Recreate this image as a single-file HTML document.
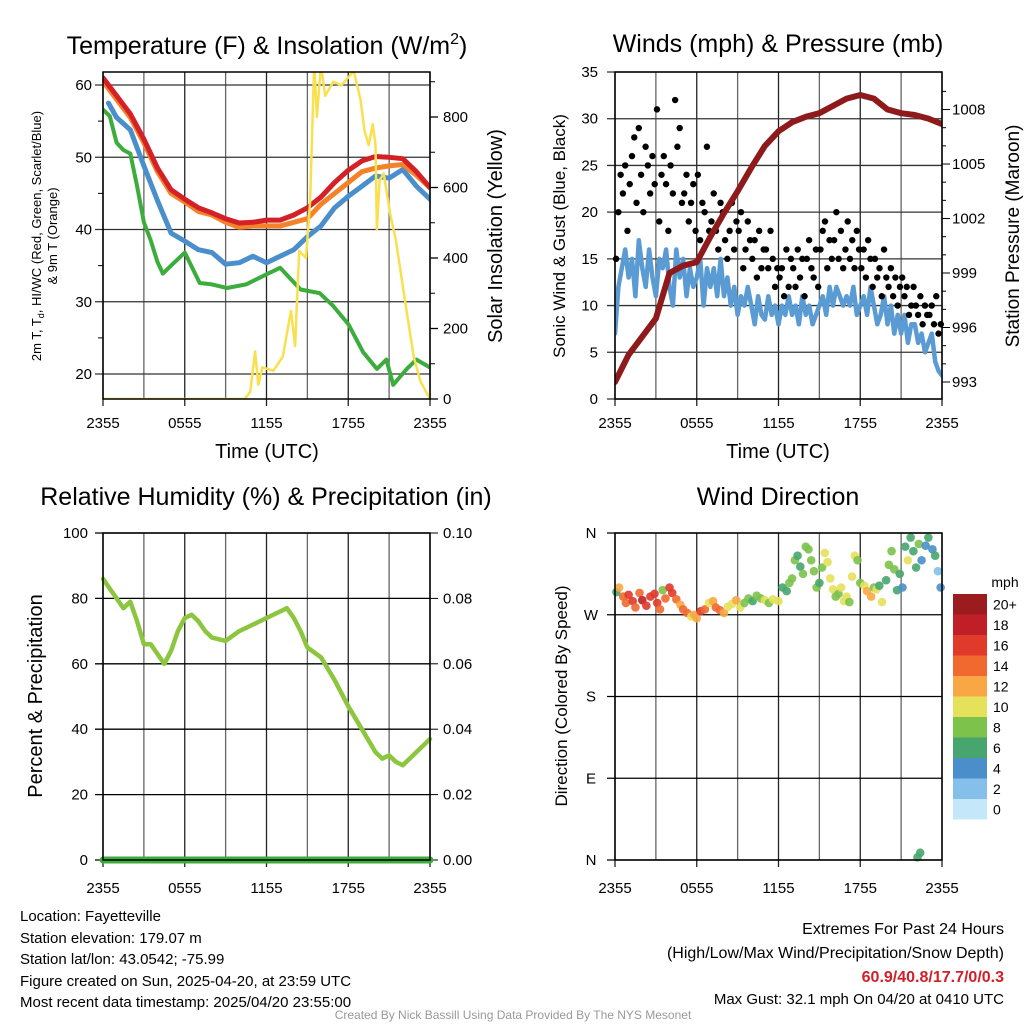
<!DOCTYPE html>
<html><head><meta charset="utf-8"><style>
html,body{margin:0;padding:0;background:#fff;}
svg{display:block;font-family:"Liberation Sans",Arial,sans-serif;}
</style></head><body>
<svg id="c" width="1024" height="1024" viewBox="0 0 1024 1024" xmlns="http://www.w3.org/2000/svg">
<defs>
<clipPath id="cp1"><rect x="103" y="72" width="327" height="327"/></clipPath>
<clipPath id="cp2"><rect x="615" y="72" width="327" height="327"/></clipPath>
</defs>
<g id="g1"></g>
<g id="g2"></g>
<g id="g3"></g>
<g id="g4"></g>
<g font-size="25" text-anchor="middle" fill="#000">
<text x="267" y="54">Temperature (F) &amp; Insolation (W/m<tspan dy="-10" font-size="16">2</tspan><tspan dy="10">)</tspan></text>
<text x="778" y="52">Winds (mph) &amp; Pressure (mb)</text>
<text x="266" y="505">Relative Humidity (%) &amp; Precipitation (in)</text>
<text x="778" y="505">Wind Direction</text>
</g>
<g fill="#000" text-anchor="middle">
<text x="267" y="458" font-size="20">Time (UTC)</text>
<text x="778" y="458" font-size="20">Time (UTC)</text>
<text transform="translate(41,236) rotate(-90)" font-size="13">2m T, T<tspan dy="3" font-size="9">d</tspan><tspan dy="-3">, HI/WC (Red, Green, Scarlet/Blue)</tspan></text>
<text transform="translate(57,236) rotate(-90)" font-size="13">&amp; 9m T (Orange)</text>
<text transform="translate(502,236) rotate(-90)" font-size="20">Solar Insolation (Yellow)</text>
<text transform="translate(565,236) rotate(-90)" font-size="17">Sonic Wind &amp; Gust (Blue, Black)</text>
<text transform="translate(1019,236) rotate(-90)" font-size="19">Station Pressure (Maroon)</text>
<text transform="translate(42,696) rotate(-90)" font-size="20">Percent &amp; Precipitation</text>
<text transform="translate(567,696) rotate(-90)" font-size="17">Direction (Colored By Speed)</text>
<text x="1005" y="587" font-size="14">mph</text>
</g>
<g font-size="15" fill="#000">
<text x="20" y="921">Location: Fayetteville</text>
<text x="20" y="943">Station elevation: 179.07 m</text>
<text x="20" y="964">Station lat/lon: 43.0542; -75.99</text>
<text x="20" y="986">Figure created on Sun, 2025-04-20, at 23:59 UTC</text>
<text x="20" y="1007">Most recent data timestamp: 2025/04/20 23:55:00</text>
</g>
<g font-size="15" fill="#000" text-anchor="end">
<text x="1004" y="934" font-size="16">Extremes For Past 24 Hours</text>
<text x="1004" y="958" font-size="16">(High/Low/Max Wind/Precipitation/Snow Depth)</text>
<text x="1004" y="982" font-size="16" font-weight="bold" fill="#d0202a">60.9/40.8/17.7/0/0.3</text>
<text x="1004" y="1004">Max Gust: 32.1 mph On 04/20 at 0410 UTC</text>
</g>
<text x="513" y="1019" font-size="12" fill="#999" text-anchor="middle">Created By Nick Bassill Using Data Provided By The NYS Mesonet</text>
</svg>
<script>
// ---------- data ----------
const xTickLabels = ["2355","0555","1155","1755","2355"];
const hourTimes = [0,1,2,3,4,5,6,7,8,9,10,11,12,13,14,15,16,17,18,19,20,21,22,23,24];
const tempRed = [61,58.5,56,52.5,48.5,45.5,44.2,43,42.3,41.5,40.9,41,41.3,41.3,42,43,44.5,46.5,48.2,49.5,50.1,50,49.8,48,45.8];
const tempOrange = [60.5,58,55.5,52,48,45,43.8,42.5,42,41,40.3,40.5,40.5,40.5,41,41.5,43.5,45,46.5,48,48.5,48.8,49,47.5,45.8];
const blueTimes = [0.4,1,2,3,4,5,6,7,8,9,10,11,12,13,14,15,16,17,18,19,20,21,22,23,24];
const tempBlue = [57.5,55.5,53.8,48.8,44,39.5,38.4,37.2,36.8,35.2,35.4,36.3,35.4,36.3,37.2,39,40.5,43,44.6,46,47.4,47.1,48.3,46,44.2];
const greenTimes = [0,0.5,1,1.5,2,2.5,3,3.5,4,4.4,5,6,7.1,8,9.1,10.5,12,13,14.5,15.9,16.9,18,19.1,20.1,20.8,21.3,22.3,23,24];
const tempGreen = [56.6,55.7,52,51,50.5,46,41,38.5,35.5,33.9,35,36.8,32.6,32.4,31.9,32.4,33.8,34.7,31.7,31.2,29.4,26.9,23,20.7,22,18.5,20.7,22,20.9];
const solarTimes = [0,10.4,10.8,11.16,11.4,11.7,12.5,13.2,13.8,14.1,14.4,14.9,15.2,15.5,15.7,16.0,16.3,16.9,17.5,18.4,18.9,19.2,19.5,19.8,20.0,20.1,20.3,20.6,21.1,21.5,22.2,22.8,23.3,24];
const solarValues = [0,0,20,135,40,90,80,120,250,150,420,400,560,950,800,950,860,900,890,930,850,760,720,780,720,480,620,640,520,450,270,120,50,0];
const tempTicks = [20,30,40,50,60];
const solarTicks = [0,200,400,600,800];

const pressure = [993,994.5,995.5,996.5,999,999.4,999.6,1001,1002.3,1003.5,1004.8,1006,1006.8,1007.3,1007.6,1007.8,1008.2,1008.6,1008.8,1008.6,1008,1007.8,1007.7,1007.5,1007.2];
const windSpeed = [7,12,14,16, 13,15,11,17, 14,12,16,13, 11,15,14,16, 12,10,16,13, 15,11,14,12, 13,15,10,14, 12,14,11,15, 11,13,10,12, 9,11,10,12, 10,8,11,9, 8.5,11,9,10, 8,10,9,11, 9,10,8,11, 9,10,8,9, 10,11,9,12, 10,12,11,10, 11,10,12,9, 10,11,9,12, 10,8,9,11, 8,10,7,9, 7,9,6,8, 8,6,7,5, 6,7,4,3, 2.5];
const windGust = [15,20,24,22,25,18, 23,26,28,21,29,24, 20,27,25,22,26,23, 31,19,24,26,23,18, 25,22,32,27,29,21, 22,24,19,21,23,18, 24,17,21,20,27,18, 19,22,18,16,21,20, 17,15,18,21,16,19, 18,20,14,16,19,17, 15,17,13,18,14,16, 16,14,18,15,12,14, 13,14,11,16,12,15, 14,12,16,13,15,11, 15,17,14,13,16,12, 16,18,19,14,17,15, 17,20,15,18,14,16, 19,15,17,14,18,16, 14,16,13,17,15,12, 15,13,14,11,16,13, 12,14,11,13,10,12, 13,11,12,9,10,12, 10,9,11,8,10,9, 9,10,8,11,7,8];
const windTicks = [0,5,10,15,20,25,30,35];
const pressureTicks = [993,996,999,1002,1005,1008];

const rhTimes = [0,0.5,1,1.5,2,2.5,3,3.5,4,4.5,5,5.5,6,6.5,7,7.5,8,9,10,11,12,13,13.5,14,14.5,15,16,17,18,19,20,20.5,21,21.5,22,23,24];
const rhValues = [86,83,80,77,79,73,66,66,63,60,64,70,74,75,73,70,68,67,70,72,74,76,77,74,70,65,62,55,47,40,33,31,32,30,29,33,37];
const precipValues = [0,0,0,0,0,0,0,0,0,0,0,0,0,0,0,0,0,0,0,0,0,0,0,0,0];
const rhTicks = [0,20,40,60,80,100];
const precipTicks = ["0.00","0.02","0.04","0.06","0.08","0.10"];

const wdTime = [0.1,0.3,0.6,0.8,1,1.3,1.5,1.8,2,2.3,2.6,2.9,3.1,3.3,3.5,3.7,4,4.2,4.5,4.8,5,5.3,5.6,5.8,6,6.3,6.6,6.9,7.2,7.4,7.7,8,8.3,8.6,8.9,9.2,9.5,9.8,10.1,10.4,10.7,11,11.3,11.6,12,12.3,12.6,12.8,13,13.2,13.4,13.6,13.8,14,14.2,14.4,14.6,14.8,15,15.2,15.4,15.6,15.8,16,16.2,16.4,16.6,16.8,17,17.2,17.4,17.6,17.8,18,18.3,18.5,18.8,19,19.2,19.4,19.6,19.9,20.1,20.3,20.5,20.7,20.9,21.1,21.3,21.5,21.7,21.9,22.1,22.3,22.5,22.8,23,23.3,23.5,23.7,23.9,22.2,22.4];
const wdDir = [295,300,290,283,292,285,278,294,286,280,290,293,283,276,297,288,300,294,287,281,276,272,268,270,266,274,276,283,285,278,275,272,279,282,286,278,283,288,285,291,288,286,283,287,285,300,296,305,310,330,335,323,315,345,342,330,318,300,305,322,338,328,310,298,290,293,300,285,290,284,312,335,330,305,302,296,290,300,298,302,284,308,325,340,320,297,315,300,345,330,355,340,322,348,330,346,355,342,335,318,300,3,8];
const wdSpeed = [6,13,15,14,17,16,14,15,18,17,16,17,16,14,8,14,17,16,14,12,15,14,11,12,13,16,15,11,12,14,14,13,11,10,12,10,9,8,7,8,8,10,9,10,10,7,6,8,8,8,6,7,8,8,8,8,9,8,7,8,10,11,10,10,9,8,10,10,10,9,10,10,9,8,10,12,13,8,10,7,10,6,8,8,8,6,6,5,7,10,6,6,6,8,5,4,6,4,6,3,4,6,6];
const dirTicks = ["N","E","S","W","N"];
const speedBins = ["0","2","4","6","8","10","12","14","16","18","20+"];
const speedColors = ["#c4e8fa","#84c0ea","#4a8fc9","#47a66e","#7cc24b","#e6e15b","#f8a744","#f1692f","#e03a2b","#c01f27","#9b1b1e"];

// ---------- helpers ----------
const NS="http://www.w3.org/2000/svg";
function mk(tag,attrs,parent){const e=document.createElementNS(NS,tag);for(const k in attrs)e.setAttribute(k,attrs[k]);parent.appendChild(e);return e;}
function scaleX(x0,w){return t=>x0+t/24*w;}
function scaleY(y0,y1,v0,v1){return v=>y0+(v-v0)/(v1-v0)*(y1-y0);}
function pathD(xs,ys,xf,yf){return xs.map((t,i)=>(i?"L":"M")+xf(t).toFixed(1)+","+yf(ys[i]).toFixed(1)).join("");}

function frame(g,x0,y0,w,h,xtickY){
  for(let k=0;k<=8;k++){
    const x=x0+k*w/8;
    const l=mk("line",{x1:x,x2:x,y1:y0,y2:y0+h+(k%2===0?7:0),stroke:k%2?"#666":"#222","stroke-width":1.3},g);
    
    
  }
  for(let k=0;k<5;k++){
    const t=mk("text",{x:x0+k*w/4,y:xtickY,"font-size":15,"text-anchor":"middle"},g);
    t.textContent=xTickLabels[k];
    
    
  }
}
function border(g,x0,y0,w,h){
  const r=mk("rect",{x:x0,y:y0,width:w,height:h,fill:"none",stroke:"#000","stroke-width":1.5},g);
  
  
}
function hline(g,x0,w,y,col){
  const l=mk("line",{x1:x0-8,x2:x0+w,y1:y,y2:y,stroke:col||"#333","stroke-width":1.3},g);
  
  
}
function label(g,x,y,txt,anchor,size){
  const t=mk("text",{x:x,y:y,"font-size":size||15,"text-anchor":anchor},g);
  t.textContent=txt;
  
  
  return t;
}
function series(g,d,color,width,name,clip){
  const p=mk("path",{d:d,fill:"none",stroke:color,"stroke-width":width,"stroke-linejoin":"round","stroke-linecap":"round"},g);
  if(clip)p.setAttribute("clip-path",clip);
  
  
  return p;
}

// ---------- Panel 1 ----------
(function(){
  const g=document.getElementById("g1");
  const X0=103,Y0=72,W=327,H=327;
  const xs=scaleX(X0,W);
  const yT=scaleY(374,85,20,60);
  const yS=scaleY(399,117,0,800);
  frame(g,X0,Y0,W,H,428);
  tempTicks.forEach(v=>{hline(g,X0,W,yT(v));label(g,92,yT(v)+5,String(v),"end");});
  for(let v=25;v<=60;v+=10){const l=mk("line",{x1:X0-5,x2:X0,y1:yT(v),y2:yT(v),stroke:"#000"},g);}
  solarTicks.forEach(v=>{const l=mk("line",{x1:X0+W,x2:X0+W+8,y1:yS(v),y2:yS(v),stroke:"#000","stroke-width":1.3},g);label(g,443,yS(v)+5,String(v),"start");});
  for(let v=100;v<=900;v+=200){const l=mk("line",{x1:X0+W,x2:X0+W+5,y1:yS(v),y2:yS(v),stroke:"#000"},g);}
  series(g,pathD(greenTimes,tempGreen,xs,yT),"#3cad3c",4,"dewpoint-line","url(#cp1)");
  series(g,pathD(blueTimes,tempBlue,xs,yT),"#4a8fcb",5,"heat-index-wind-chill-line","url(#cp1)");
  series(g,pathD(hourTimes,tempOrange,xs,yT),"#f5822a",5,"temp-9m-line","url(#cp1)");
  series(g,pathD(hourTimes,tempRed,xs,yT),"#d42027",5,"temp-2m-line","url(#cp1)");
  series(g,pathD(solarTimes,solarValues,xs,yS),"#f8e04e",2.5,"solar-line","url(#cp1)");
  border(g,X0,Y0,W,H);
})();

// ---------- Panel 2 ----------
(function(){
  const g=document.getElementById("g2");
  const X0=615,Y0=72,W=327,H=327;
  const xs=scaleX(X0,W);
  const yW=scaleY(399,72,0,35);
  const yP=scaleY(382,95,993,1008.8);
  frame(g,X0,Y0,W,H,428);
  windTicks.forEach(v=>{hline(g,X0,W,yW(v));label(g,598,yW(v)+5,String(v),"end");});
  pressureTicks.forEach(v=>{label(g,952,yP(v)+5,String(v),"start");});
  for(let v=993;v<=1009;v++){const l=mk("line",{x1:X0+W,x2:X0+W+(v%3===0?8:4),y1:yP(v),y2:yP(v),stroke:"#000"},g);}
  const wt=windSpeed.map((v,i)=>i*0.25);
  series(g,pathD(wt,windSpeed,xs,yW),"#5a9bd3",4.5,"sonic-wind-line","url(#cp2)");
  const gg=mk("g",{},g);
  
  
  windGust.forEach((v,i)=>{
    const c=mk("circle",{cx:xs(i/6+0.08),cy:yW(v),r:3.2,fill:"#000"},gg);
    
    
  });
  series(g,pathD(hourTimes,pressure,xs,yP),"#8e1a1c",6,"pressure-line","url(#cp2)");
  border(g,X0,Y0,W,H);
})();

// ---------- Panel 3 ----------
(function(){
  const g=document.getElementById("g3");
  const X0=103,Y0=533,W=327,H=327;
  const xs=scaleX(X0,W);
  const yR=scaleY(860,533,0,100);
  frame(g,X0,Y0,W,H,893);
  rhTicks.forEach((v,i)=>{hline(g,X0,W,yR(v),"#000");label(g,88,yR(v)+5,String(v),"end");label(g,443,yR(v)+5,precipTicks[i],"start");
    const l=mk("line",{x1:X0+W,x2:X0+W+8,y1:yR(v),y2:yR(v),stroke:"#000"},g);});
  series(g,pathD(rhTimes,rhValues,xs,yR),"#8cc63f",4.5,"humidity-line");
  series(g,pathD(hourTimes,precipValues.map(v=>v*1000),xs,yR),"#3cad3c",7,"precipitation-line");
  border(g,X0,Y0,W,H);
})();

// ---------- Panel 4 ----------
(function(){
  const g=document.getElementById("g4");
  const X0=615,Y0=533,W=327,H=327;
  const xs=scaleX(X0,W);
  const yD=scaleY(860,533,0,360);
  frame(g,X0,Y0,W,H,893);
  dirTicks.forEach((s,i)=>{const v=i*90;hline(g,X0,W,yD(v),"#000");label(g,591,yD(v)+5,s,"middle");});
  const pg=mk("g",{},g);
  
  
  wdTime.forEach((t,i)=>{
    const b=Math.min(10,Math.floor(wdSpeed[i]/2));
    const c=mk("circle",{cx:xs(t),cy:yD(wdDir[i]),r:4.3,fill:speedColors[b],"fill-opacity":0.9},pg);
    
    
  });
  const cb=mk("g",{},g);
  
  
  const bh=20.5, cy0=594;
  speedBins.forEach((s,i)=>{
    const k=10-i;
    const r=mk("rect",{x:953,y:cy0+i*bh,width:34,height:bh,fill:speedColors[k]},cb);
    
    
    const t=mk("text",{x:993,y:cy0+i*bh+bh/2+5,"font-size":14},cb);
    t.textContent=speedBins[k];
    
    
  });
  border(g,X0,Y0,W,H);
})();
</script>
</body></html>
